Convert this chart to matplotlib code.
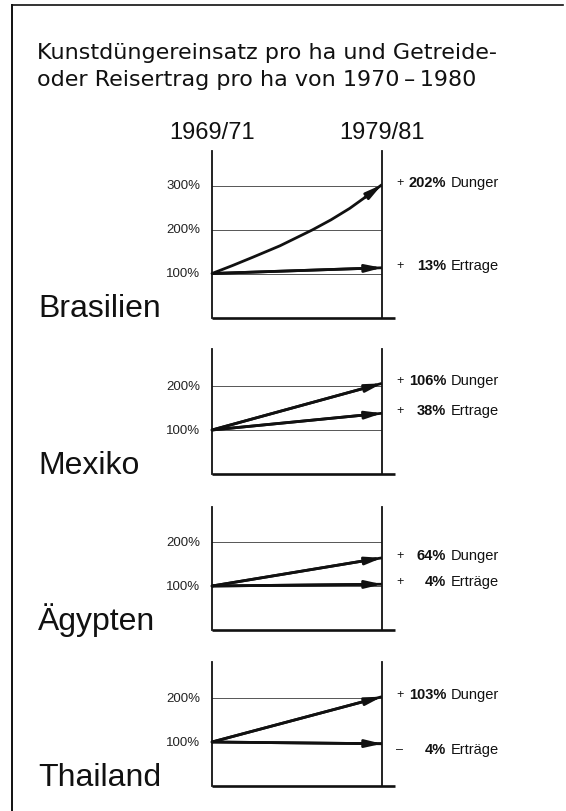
import matplotlib
matplotlib.use("Agg")
import matplotlib.pyplot as plt
from matplotlib.lines import Line2D

# ---------------------------------------------------------------------------
# data (index 1969/71 = 100 %)
COUNTRIES = ["Brasilien", "Mexiko", "Ägypten", "Thailand"]
DUENGER_CHANGE = [202, 106, 64, 103]          # % change fertiliser per ha
ERTRAG_CHANGE = [13, 38, 4, -4]               # % change grain / rice yield per ha
DUENGER_WORD = ["Dunger", "Dunger", "Dunger", "Dunger"]
ERTRAG_WORD = ["Ertrage", "Ertrage", "Erträge", "Erträge"]
GRID_LEVELS = [[100, 200, 300], [100, 200], [100, 200], [100, 200]]
YEARS = [1970, 1980]
YEAR_LABELS = ["1969/71", "1979/81"]

# Brasilien fertiliser curve is bent, intermediate readings
BRA_CURVE_YEARS = [1970, 1971.2, 1972.4, 1974.0, 1975.9, 1977.0, 1978.1, 1979.0, 1980]
BRA_CURVE_VALUES = [100, 118, 137, 163, 199, 222, 248, 273, 302]

TITLE_LINES = ["Kunstdüngereinsatz pro ha und Getreide-",
               "oder Reisertrag pro ha von 1970\u2009\u2013\u20091980"]

# ---------------------------------------------------------------------------
W, H = 566, 812
PX_PER_100 = 44.0
PANEL_LEFT, PANEL_RIGHT = 212, 382
PANEL_BOTTOMS = [318.5, 475, 631, 787]
PANEL_TOPS = [152, 350, 508, 663]
INK = "#111111"

plt.rcParams["font.family"] = ["Liberation Sans", "DejaVu Sans"]


def fx(px):
    return px / W


def fy(py):
    return 1 - py / H


fig = plt.figure(figsize=(W / 100, H / 100), dpi=100)
fig.patch.set_facecolor("white")

# frame (top + left only, as in the print)
fig.add_artist(Line2D([fx(12), fx(563)], [fy(6), fy(6)], color=INK, lw=1.2))
fig.add_artist(Line2D([fx(12), fx(12)], [fy(6), fy(812)], color=INK, lw=1.4))

for line, base in zip(TITLE_LINES, [59, 86]):
    fig.text(fx(37), fy(base), line, fontsize=16, color=INK, ha="left",
             va="baseline", family=["DejaVu Sans"])

for xp, lab in zip([PANEL_LEFT, PANEL_RIGHT], YEAR_LABELS):
    fig.text(fx(xp), fy(139), lab, fontsize=17, color=INK, ha="center",
             va="baseline")


def draw_arrow(ax, xs, ys):
    ax.plot(xs, ys, color=INK, lw=2.0, solid_capstyle="butt",
            solid_joinstyle="round", zorder=3)
    ax.annotate("", xy=(xs[-1], ys[-1]), xytext=(xs[-2], ys[-2]),
                arrowprops=dict(arrowstyle="-|>,head_length=0.95,head_width=0.22",
                                color=INK, lw=2.0, shrinkA=0, shrinkB=0),
                zorder=4, annotation_clip=False)


for i, country in enumerate(COUNTRIES):
    bot, top = PANEL_BOTTOMS[i], PANEL_TOPS[i]
    ax = fig.add_axes([fx(PANEL_LEFT), fy(bot), fx(PANEL_RIGHT) - fx(PANEL_LEFT),
                       (bot - top) / H])
    ax.set_xlim(YEARS[0], YEARS[1])
    ax.set_ylim(0, (bot - top) / PX_PER_100 * 100)
    ax.set_xticks([])
    ax.set_yticks([])
    for s in ["top", "bottom"]:
        ax.spines[s].set_visible(False)
    for s in ["left", "right"]:
        ax.spines[s].set_linewidth(1.3)
        ax.spines[s].set_color(INK)
    # baseline runs a little past the right axis
    ax.plot([0, 1.078], [0, 0], transform=ax.transAxes, color=INK, lw=1.9,
            clip_on=False, solid_capstyle="butt")

    for lvl in GRID_LEVELS[i]:
        ax.axhline(lvl, color="#555555", lw=0.7, zorder=1)
        ax.text(-0.07, lvl, f"{lvl}%", transform=ax.get_yaxis_transform(),
                ha="right", va="center", fontsize=9.5, color="#222222")

    d_end = 100 + DUENGER_CHANGE[i]
    e_end = 100 + ERTRAG_CHANGE[i]
    if country == "Brasilien":
        draw_arrow(ax, BRA_CURVE_YEARS, BRA_CURVE_VALUES)
    else:
        draw_arrow(ax, YEARS, [100, d_end])
    draw_arrow(ax, YEARS, [100, e_end])

    # right hand labels
    for val, word, end in [(DUENGER_CHANGE[i], DUENGER_WORD[i], d_end),
                           (ERTRAG_CHANGE[i], ERTRAG_WORD[i], e_end)]:
        ypx = bot - end / 100 * PX_PER_100 - 3
        if val < 0:
            ypx += 8
        sign = "+" if val >= 0 else "\u2013"
        fig.text(fx(400), fy(ypx), sign, ha="center", va="center",
                 fontsize=9, color=INK)
        fig.text(fx(446), fy(ypx), f"{abs(val)}%", ha="right", va="center",
                 fontsize=10.5, fontweight="bold", color=INK)
        fig.text(fx(451), fy(ypx), word, ha="left", va="center",
                 fontsize=10.5, color=INK)

    fig.text(fx(38), fy(bot - 1), country, fontsize=23, color=INK,
             ha="left", va="baseline")

fig.savefig("out.png", dpi=100, facecolor="white")
